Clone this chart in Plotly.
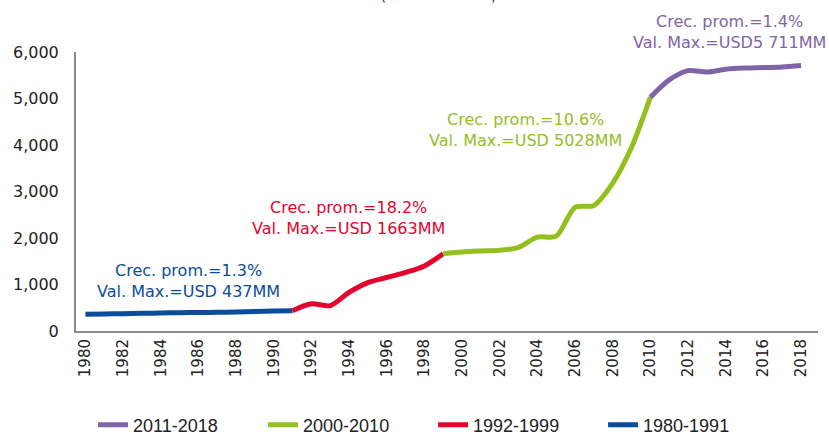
import plotly.graph_objects as go

years_a = list(range(1980, 1992))
vals_a = [360, 365, 372, 380, 388, 393, 398, 402, 408, 420, 430, 437]

years_b = list(range(1991, 2000))
vals_b = [437, 584, 545, 830, 1040, 1150, 1260, 1400, 1663]

years_c = list(range(1999, 2011))
vals_c = [1663, 1700, 1720, 1735, 1800, 2020, 2040, 2660, 2700, 3180, 3950, 5028]

years_d = list(range(2010, 2019))
vals_d = [5028, 5400, 5600, 5570, 5630, 5655, 5665, 5680, 5711]

names = ["1980-1991", "1992-1999", "2000-2010", "2011-2018"]
colors = ["#0b4c9c", "#e4032e", "#93c01f", "#8064a8"]
notes = [
    "Crec. prom.=1.3%<br>Val. Max.=USD 437MM",
    "Crec. prom.=18.2%<br>Val. Max.=USD 1663MM",
    "Crec. prom.=10.6%<br>Val. Max.=USD 5028MM",
    "Crec. prom.=1.4%<br>Val. Max.=USD5 711MM",
]
note_x = [1985.47, 1993.96, 2003.35, 2014.18]
note_y = [1075 / 6000, 2430 / 6000, 4323 / 6000, 1.0717]

series = [(years_a, vals_a), (years_b, vals_b), (years_c, vals_c), (years_d, vals_d)]

fig = go.Figure()
for (xs, ys), nm, col in zip(series, names, colors):
    fig.add_trace(go.Scatter(
        x=xs, y=ys, mode="lines", name=nm,
        line=dict(color=col, width=5, shape="spline", smoothing=0.8),
        cliponaxis=False,
    ))

for tx, xx, yy, col in zip(notes, note_x, note_y, colors):
    fig.add_annotation(x=xx, y=yy, xref="x", yref="paper", text=tx, showarrow=False,
                       font=dict(family="DejaVu Sans", size=16, color=col),
                       align="center", xanchor="center", yanchor="middle")

fig.add_annotation(x=0.488, y=1.165, xref="paper", yref="paper", text="(Millones USD)",
                   showarrow=False, xanchor="center", yanchor="bottom",
                   font=dict(family="DejaVu Sans", size=16, color="#333"))

fig.update_layout(
    width=829, height=439,
    margin=dict(l=76, r=11, t=52, b=108, autoexpand=False),
    paper_bgcolor="white", plot_bgcolor="white",
    showlegend=True,
    legend=dict(orientation="h", x=0.023, xanchor="left", yref="container", y=0.032, yanchor="middle",
                traceorder="reversed", entrywidth=125, entrywidthmode="pixels",
                font=dict(family="Liberation Sans Narrow, Liberation Sans", size=18, color="#222")),
    font=dict(family="DejaVu Sans", color="#222"),
)
fig.update_xaxes(range=[1979.5, 2018.9], tickmode="linear", tick0=1980, dtick=2,
                 tickangle=-90, showgrid=False, zeroline=False, automargin=False,
                 showline=True, linecolor="#8c8c8c", linewidth=2,
                 tickfont=dict(family="DejaVu Sans", size=15, color="#222"))
fig.update_yaxes(range=[0, 6000], tickmode="linear", dtick=1000, tickformat=",",
                 showgrid=False, zeroline=False, showline=True, automargin=False,
                 linecolor="#8c8c8c", linewidth=2, ticklabelstandoff=12,
                 tickfont=dict(family="DejaVu Sans", size=16, color="#222"))

fig.write_html("out.html", post_script="document.body.style.margin='0';",
               config={"displayModeBar": False})
